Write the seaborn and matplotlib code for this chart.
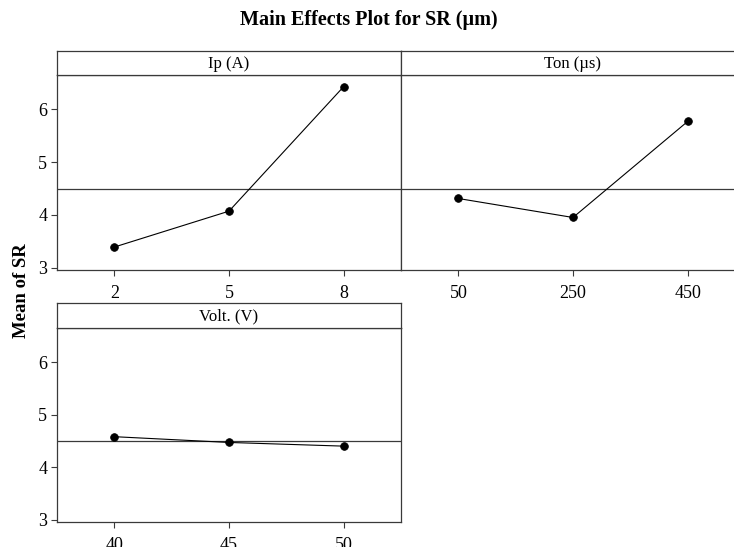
import matplotlib
matplotlib.use("Agg")
import matplotlib.pyplot as plt
import seaborn as sns
import pandas as pd

sns.set_theme(style="white")
plt.rcParams['font.family'] = ['Liberation Serif', 'DejaVu Serif']
plt.rcParams['text.color'] = 'black'
plt.rcParams['xtick.color'] = 'black'
plt.rcParams['ytick.color'] = 'black'

ip_levels = ["2", "5", "8"]
ip_means = [3.39, 4.07, 6.43]
ton_levels = ["50", "250", "450"]
ton_means = [4.31, 3.95, 5.77]
volt_levels = ["40", "45", "50"]
volt_means = [4.58, 4.47, 4.40]
grand_mean = 4.49
yticks = [3, 4, 5, 6]

W, H = 734, 547
fig = plt.figure(figsize=(W / 100, H / 100), dpi=100)

def fx(px):
    return px / W

def fy(py):
    return 1 - py / H

spine_col = "#3a3a3a"

panels = [
    ("Ip (A)", ip_levels, ip_means, 57, 75, 270, 51, True),
    ("Ton (\u00b5s)", ton_levels, ton_means, 401, 75, 270, 51, False),
    ("Volt. (V)", volt_levels, volt_means, 57, 328, 522, 303, True),
]

for name, levels, means, x0, ytop, ybot, stop, show_y in panels:
    width = 344
    ax = fig.add_axes([fx(x0), fy(ybot), width / W, (ybot - ytop) / H])
    df = pd.DataFrame({"level": levels, "mean": means})
    sns.pointplot(data=df, x="level", y="mean", order=levels, color="black",
                  markers="o", markersize=5.5, linewidth=0.8, ax=ax,
                  errorbar=None)
    ax.axhline(grand_mean, color=spine_col, lw=0.9, zorder=0)
    ax.set_xlim(-0.5, len(levels) - 0.5)
    ax.set_ylim(2.955, 6.65)
    ax.set_yticks(yticks)
    ax.set_xlabel("")
    ax.set_ylabel("")
    ax.tick_params(axis="both", direction="out", length=4, width=0.8,
                   color=spine_col, labelsize=13, labelcolor="black",
                   bottom=True, left=show_y, labelleft=show_y)
    ax.tick_params(axis="x", pad=7)
    ax.tick_params(axis="y", pad=3)
    for s in ax.spines.values():
        s.set_color(spine_col)
        s.set_linewidth(0.9)
    # strip
    sax = fig.add_axes([fx(x0), fy(ytop), width / W, (ytop - stop) / H])
    sax.set_xticks([])
    sax.set_yticks([])
    for s in sax.spines.values():
        s.set_color(spine_col)
        s.set_linewidth(0.9)
    sax.set_facecolor("white")
    sax.text(0.5, 0.45, name, ha="center", va="center", fontsize=12,
             color="black", transform=sax.transAxes)

fig.text(fx(369), fy(20), "Main Effects Plot for SR (\u00b5m)", ha="center",
         va="center", fontsize=14.5, fontweight="bold", color="black")
fig.text(fx(22), fy(291), "Mean of SR", ha="center", va="center",
         rotation=90, fontsize=13.5, fontweight="bold", color="black")

fig.savefig("out.png", dpi=100)
